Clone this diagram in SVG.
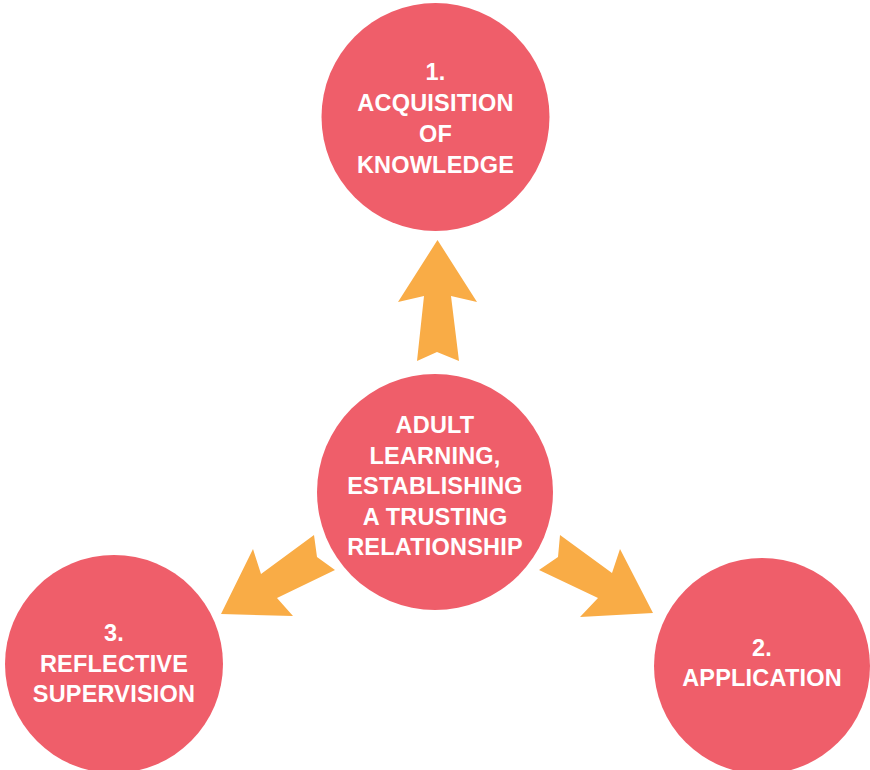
<svg xmlns="http://www.w3.org/2000/svg" width="870" height="770" viewBox="0 0 870 770">
  <style>
    .node { fill: #EF5E6A; }
    .arrow { fill: #F9AC46; }
    .label { font-family: "Liberation Sans", Arial, sans-serif; font-weight: bold; font-size: 23.5px; fill: #FFFFFF; text-anchor: middle; letter-spacing: 0.2px; }
  </style>
  <rect width="870" height="770" fill="#FFFFFF"/>

  <!-- Block arrows from the centre outwards -->
  <g id="connectors">
    <polygon class="arrow" points="437.5,240 477,302 451,296 459,361 437,352 417,361 424,296 398,302"/>
    <polygon class="arrow" points="221,614 253,549 261,574 314,535 317,557 335,570 277,598 293,616"/>
    <polygon class="arrow" points="560,535 612,573 620,549 653,613 580,617 598,598 539,570 558,557"/>
  </g>

  <g id="node-acquisition">
    <circle class="node" cx="435.5" cy="117" r="114"/>
    <text class="label" x="435.5" y="80">1.</text>
    <text class="label" x="435.5" y="111">ACQUISITION</text>
    <text class="label" x="435.5" y="142">OF</text>
    <text class="label" x="435.5" y="173">KNOWLEDGE</text>
  </g>

  <g id="node-center">
    <circle class="node" cx="435" cy="492" r="118"/>
    <text class="label" x="435" y="433">ADULT</text>
    <text class="label" x="435" y="463.5">LEARNING,</text>
    <text class="label" x="435" y="494">ESTABLISHING</text>
    <text class="label" x="435" y="525">A TRUSTING</text>
    <text class="label" x="435" y="555">RELATIONSHIP</text>
  </g>

  <g id="node-reflective">
    <circle class="node" cx="114" cy="664" r="109"/>
    <text class="label" x="114" y="641">3.</text>
    <text class="label" x="114" y="672">REFLECTIVE</text>
    <text class="label" x="114" y="702">SUPERVISION</text>
  </g>

  <g id="node-application">
    <circle class="node" cx="762" cy="666" r="108"/>
    <text class="label" x="762" y="656">2.</text>
    <text class="label" x="762" y="686">APPLICATION</text>
  </g>
</svg>
